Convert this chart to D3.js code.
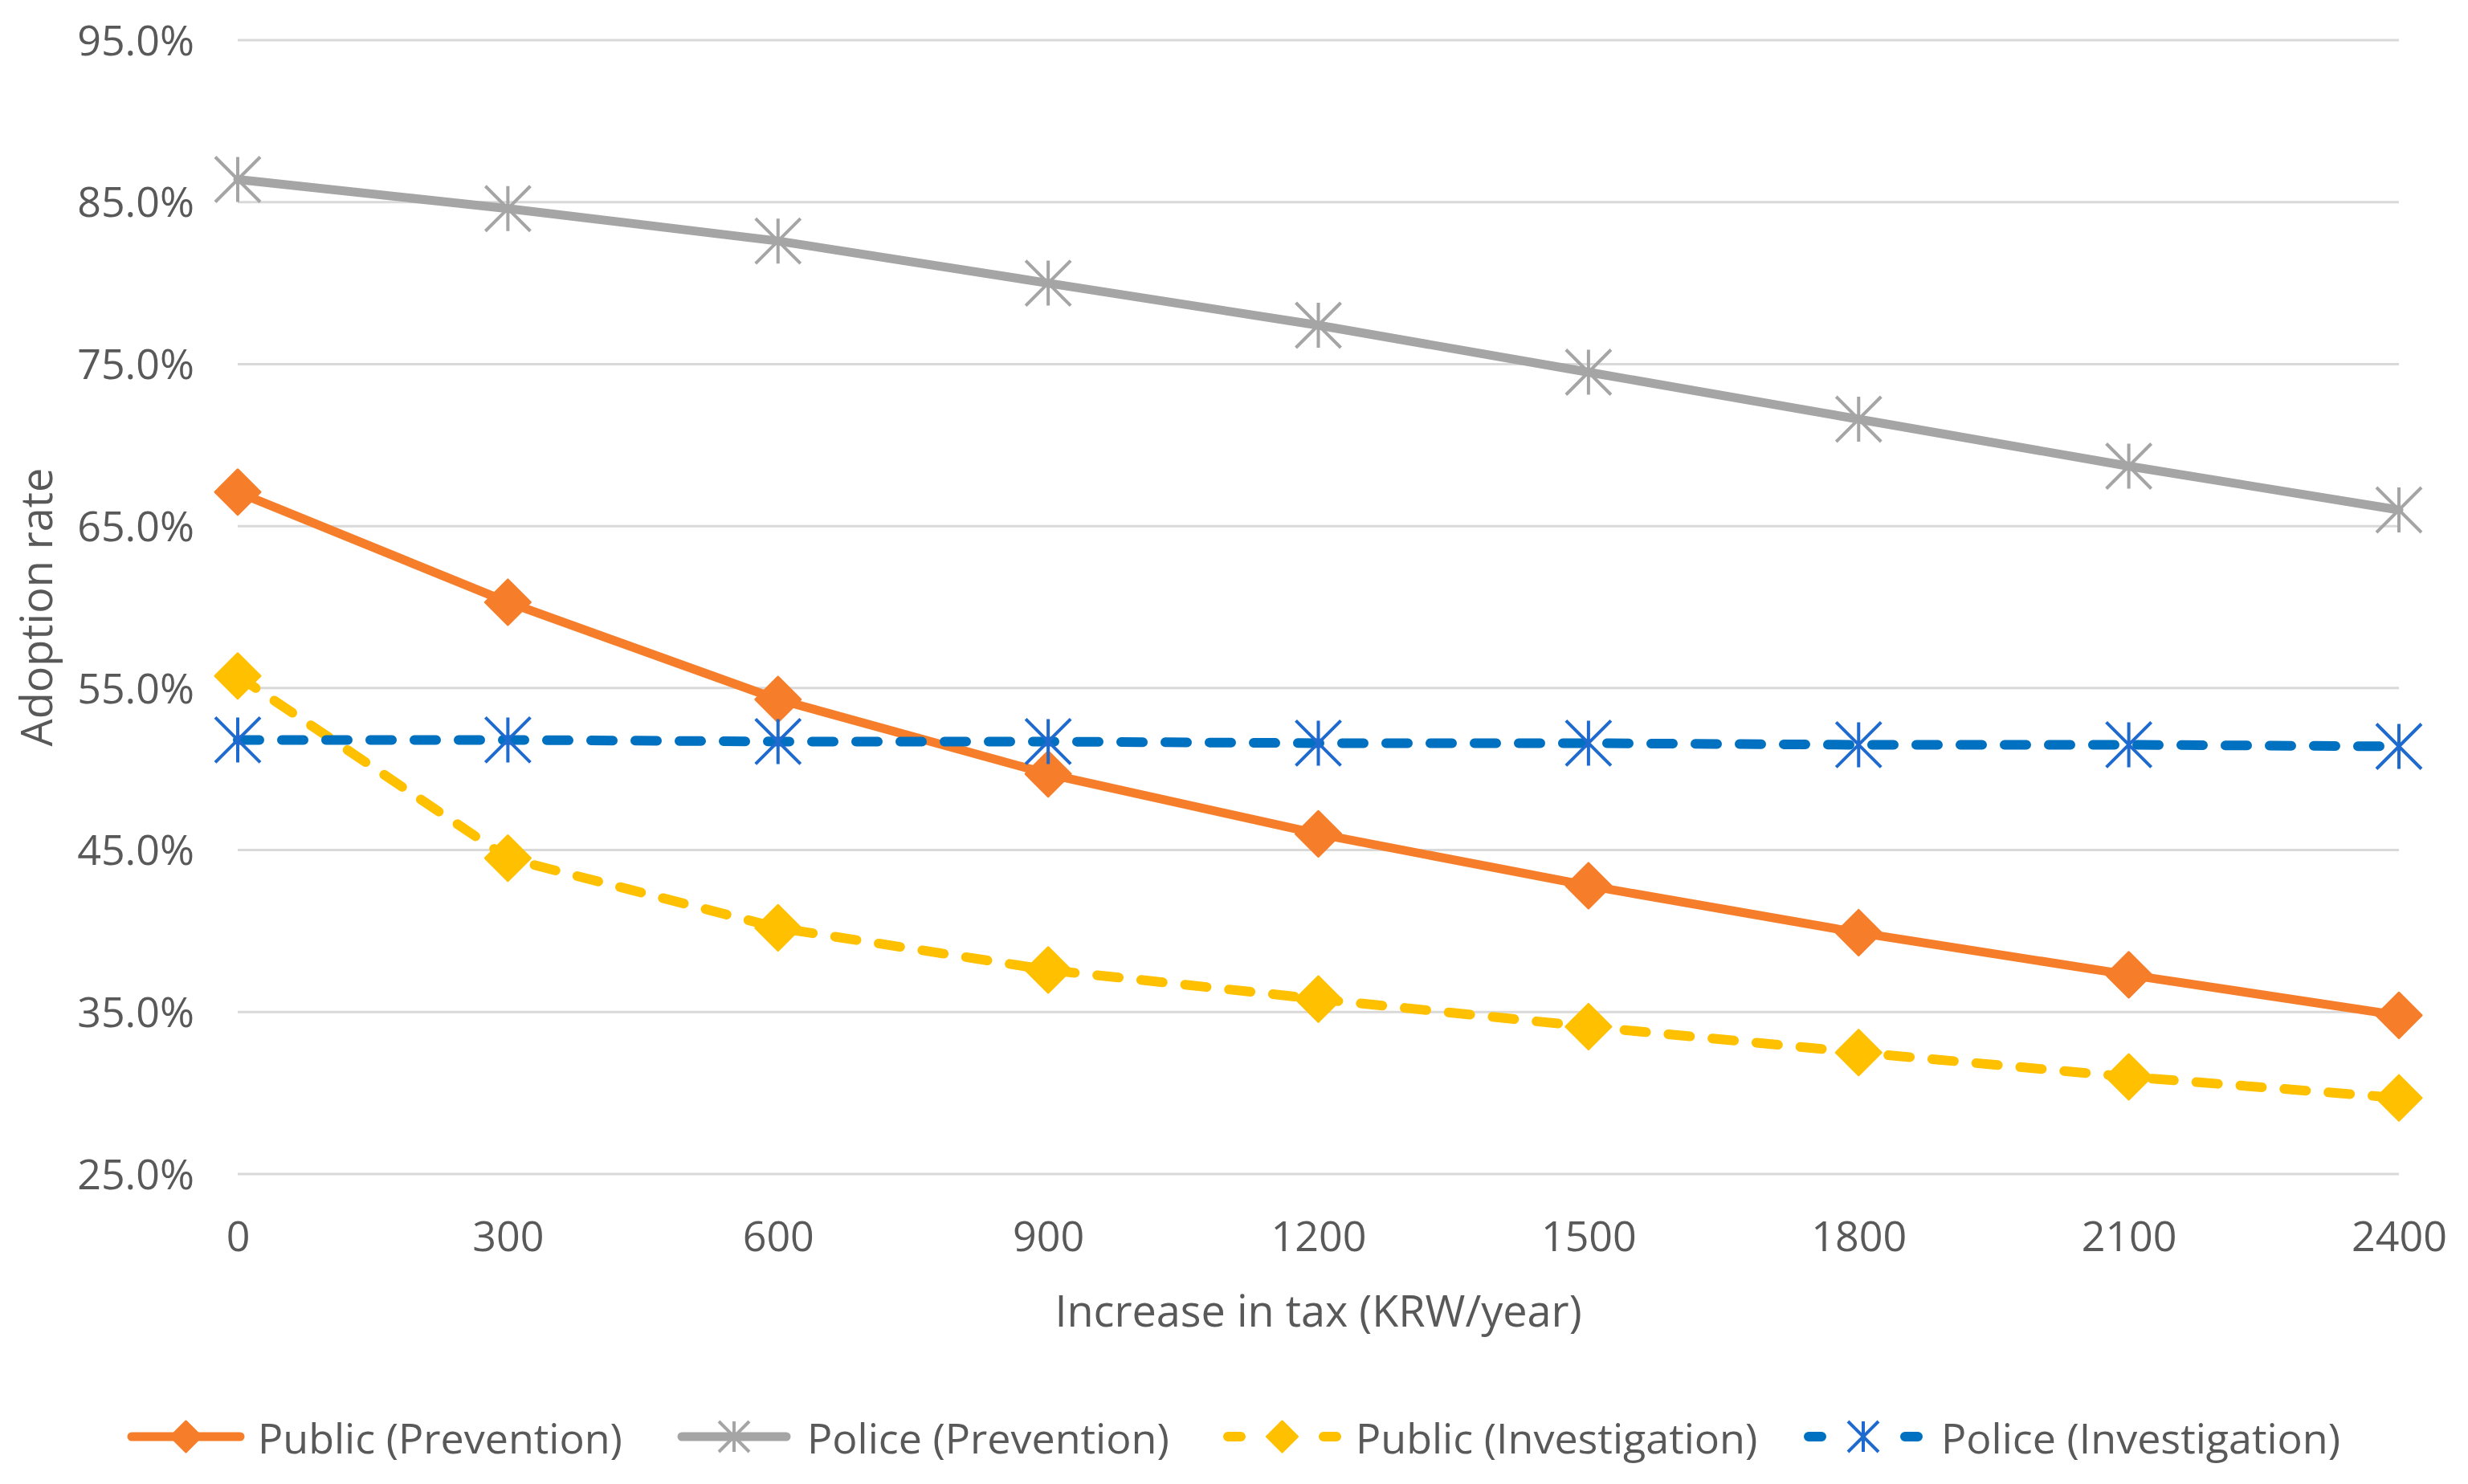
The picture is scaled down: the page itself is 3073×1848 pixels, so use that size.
<!DOCTYPE html>
<html>
<head>
<meta charset="utf-8">
<script src="https://cdn.jsdelivr.net/npm/d3@7"></script>
<style>
  html, body { margin: 0; padding: 0; background: #ffffff; }
  svg { display: block; }
  text { font-family: "Open Sans", "Noto Sans", sans-serif; fill: #595959; }
</style>
</head>
<body>
<svg id="chart" width="3073" height="1848"></svg>
<script>
// ---- data ----
const taxLevels = [0, 300, 600, 900, 1200, 1500, 1800, 2100, 2400];
const publicPrevention = [67.1, 60.3, 54.3, 49.7, 46.0, 42.8, 39.9, 37.3, 34.8];
const policePrevention = [86.4, 84.6, 82.6, 80.0, 77.4, 74.5, 71.6, 68.7, 66.0];
const publicInvestigation = [55.75, 44.5, 40.2, 37.6, 35.8, 34.1, 32.5, 31.0, 29.7];
const policeInvestigation = [51.8, 51.8, 51.7, 51.7, 51.6, 51.6, 51.5, 51.5, 51.4];
const yTicks = [25, 35, 45, 55, 65, 75, 85, 95];
const seriesNames = ["Public (Prevention)", "Police (Prevention)", "Public (Investigation)", "Police (Investigation)"];
const xTitle = "Increase in tax (KRW/year)";
const yTitle = "Adoption rate";

(function () {
const seriesValues = [publicPrevention, policePrevention, publicInvestigation, policeInvestigation];
const styles = [
  { color: "#F67E2B", markerColor: "#F67E2B", marker: "diamond", dash: null, width: 11 },
  { color: "#A5A5A5", markerColor: "#A5A5A5", marker: "star", dash: null, width: 11 },
  { color: "#FFC000", markerColor: "#FFC000", marker: "diamond", dash: "27,28", width: 12 },
  { color: "#0070C0", markerColor: "#1F6ACF", marker: "star", dash: "27,28", width: 12 }
];

const svg = d3.select("#chart");
const pLeft = 296, pRight = 2987, pTop = 50, pBottom = 1462;

const x = d3.scaleLinear().domain([0, 2400]).range([pLeft, pRight]);
const y = d3.scaleLinear().domain([25, 95]).range([pBottom, pTop]);

// gridlines
svg.append("g").selectAll("line").data(yTicks).join("line")
  .attr("x1", pLeft).attr("x2", pRight)
  .attr("y1", d => y(d)).attr("y2", d => y(d))
  .attr("stroke", "#D9D9D9").attr("stroke-width", 3);

// y axis labels
const yAxis = d3.axisLeft(y).tickValues(yTicks).tickFormat(d => d.toFixed(1) + "%").tickSize(0).tickPadding(0);
const yg = svg.append("g").attr("transform", `translate(${242},0)`).call(yAxis);
yg.select(".domain").remove();
yg.selectAll("text").attr("font-size", 52).attr("fill", "#595959")
  .attr("font-family", '"Open Sans", sans-serif').attr("dy", "0.35em").attr("x", 0);

// x axis labels
const xAxis = d3.axisBottom(x).tickValues(taxLevels).tickFormat(d => String(d)).tickSize(0).tickPadding(0);
const xg = svg.append("g").attr("transform", `translate(0,${1540})`).call(xAxis);
xg.select(".domain").remove();
xg.selectAll("text").attr("font-size", 52).attr("fill", "#595959")
  .attr("font-family", '"Open Sans", sans-serif').attr("dy", "0.35em").attr("y", 0);

// axis titles
svg.append("text").attr("x", (pLeft + pRight) / 2).attr("y", 1631)
  .attr("text-anchor", "middle").attr("dominant-baseline", "central")
  .attr("font-size", 54).text(xTitle);
svg.append("text").attr("transform", `translate(44,${(pTop + pBottom) / 2}) rotate(-90)`)
  .attr("text-anchor", "middle").attr("dominant-baseline", "central")
  .attr("font-size", 54).text(yTitle);

function drawMarker(g, type, color, size) {
  const h = size / 2;
  if (type === "diamond") {
    g.append("path").attr("d", `M0,${-h}L${h},0L0,${h}L${-h},0Z`)
      .attr("fill", color).attr("stroke", color).attr("stroke-width", 3).attr("stroke-linejoin", "round");
  } else {
    const p = `M${-h},${-h}L${h},${h}M${h},${-h}L${-h},${h}M0,${-h}L0,${h}`;
    g.append("path").attr("d", p).attr("stroke", color).attr("stroke-width", 4).attr("fill", "none");
  }
}

const line = d3.line().x((d, i) => x(taxLevels[i])).y(d => y(d));

seriesValues.forEach((vals, si) => {
  const st = styles[si];
  const g = svg.append("g");
  const path = g.append("path").datum(vals).attr("d", line)
    .attr("fill", "none").attr("stroke", st.color).attr("stroke-width", st.width)
    .attr("stroke-linejoin", "round").attr("stroke-linecap", "round");
  if (st.dash) path.attr("stroke-dasharray", st.dash);
  vals.forEach((v, i) => {
    const mg = g.append("g").attr("transform", `translate(${x(taxLevels[i])},${y(v)})`);
    drawMarker(mg, st.marker, st.markerColor, 56);
  });
});

// legend
const legendItems = [
  { lineX1: 158, lineX2: 305, textX: 321 },
  { lineX1: 843, lineX2: 985, textX: 1005 },
  { lineX1: 1523, lineX2: 1670, textX: 1688 },
  { lineX1: 2246, lineX2: 2394, textX: 2417 }
];
const ly = 1789;
seriesNames.forEach((name, si) => {
  const st = styles[si];
  const it = legendItems[si];
  const g = svg.append("g");
  const len = it.lineX2 - it.lineX1;
  const l = g.append("line").attr("x1", it.lineX1 + 6).attr("x2", it.lineX2 - 6).attr("y1", ly).attr("y2", ly)
    .attr("stroke", st.color).attr("stroke-width", st.width).attr("stroke-linecap", "round");
  if (st.dash) l.attr("stroke-dasharray", `16,${len - 12 - 32}`);
  const mg = g.append("g").attr("transform", `translate(${(it.lineX1 + it.lineX2) / 2},${ly})`);
  drawMarker(mg, st.marker, st.markerColor, 38);
  g.append("text").attr("x", it.textX).attr("y", ly).attr("dominant-baseline", "central")
    .attr("font-size", 52).text(name);
});
})();
</script>
</body>
</html>
